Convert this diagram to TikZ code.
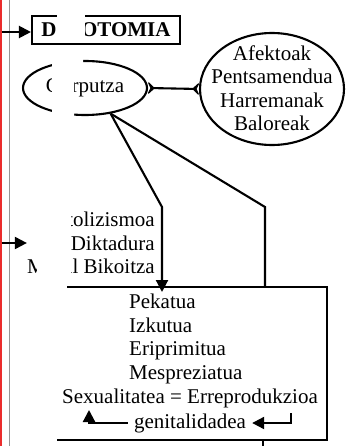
\documentclass[tikz,border=0pt]{standalone}
\usepackage{fontspec}
\setmainfont{Liberation Serif}
\usetikzlibrary{shapes.geometric,arrows.meta}
\definecolor{edgered}{RGB}{235,45,45}
\definecolor{edgegray}{RGB}{150,150,150}
\begin{document}
\begin{tikzpicture}[x=1pt,y=-1pt,
  ln/.style={line width=2.1pt},
  tipped/.style={-{Triangle[length=12pt,width=12pt]}},
  crescent/.style={{Stealth[reversed,length=8pt,width=15pt,inset=3.5pt,round,line width=1.6pt]}-{Stealth[reversed,length=8pt,width=15pt,inset=3.5pt,round,line width=1.6pt]}},
  txt/.style={font=\fontsize{21}{23.5}\selectfont, inner sep=0pt},
  cover/.style={fill=white, draw=none}]
\useasboundingbox (0,0) rectangle (348,446);
% page edge lines
\coordinate (r0) at (1,0); \coordinate (r9) at (1,446);
\coordinate (g0) at (9,0); \coordinate (g9) at (9,446);
\draw[edgered, line width=1.5pt] (r0) -- (r9);
\draw[edgegray, line width=0.8pt] (g0) -- (g9);

% nodes
\node[draw, ln, minimum width=148pt, minimum height=28pt, inner sep=0pt,
      font=\fontsize{21}{23.5}\selectfont\bfseries] (dik) at (106,30) {DIKOTOMIA};
\node[draw, ln, ellipse, minimum width=124pt, minimum height=54pt, txt] (gor) at (85,88) {Gorputza};
\node[draw, ln, ellipse, minimum width=144pt, minimum height=112pt] (afe) at (272,89) {};
\node[txt, align=center] (afet) at (272,88) {Afektoak\\Pentsamendua\\Harremanak\\Baloreak};
\node[txt, align=right, anchor=east] (kat) at (155,243) {Katolizismoa\\Diktadura\\Moral Bikoitza};
\node[txt, align=left, anchor=north west] (pek) at (129,294) {Pekatua\\Izkutua\\Eriprimitua\\Mespreziatua};
\node[txt] (sex) at (190,398) {Sexualitatea = Erreprodukzioa};
\node[txt, inner xsep=6pt] (gen) at (190,423) {genitalidadea};

% coordinates
\coordinate (a1) at (1.5,32);
\coordinate (a2) at (1.5,243);
\coordinate (b1) at (162,207);
\coordinate (b2) at (265,207);
\coordinate (t1) at (162,292);
\coordinate (tl) at (67,287);
\coordinate (tr) at (327,287);
\coordinate (br) at (327,440);
\coordinate (bl) at (57,440);
\coordinate (bot) at (263,446);
\coordinate (r1) at (291,413);
\coordinate (r2) at (291,423);
\coordinate (l1) at (89,423);
\coordinate (l2) at (89,410);

% connectors
\draw[ln, tipped] (a1) -- (a1 -| dik.west);
\draw[ln, crescent] (gor.east) -- (afe.west);
\draw[ln, tipped] (a2) -- (a2 -| kat.west);
\draw[ln] (tl) -- (tr) -- (br) -- (bl);
\draw[ln, tipped] (gor.-45) -- (b1) -- (t1);
\draw[ln] (gor.-45) -- (b2) -- (b2 |- tl);
\draw[ln] (bot |- br) -- (bot);
\draw[ln, tipped] (r1) -- (r2) -- (gen.east);
\draw[ln, tipped] (gen.west) -- (l1) -- (l2);

% white patches hiding parts of the scan
\fill[cover] (57,11) rectangle (85,41);
\fill[cover] (52,56) -- (83,56) -- (83,70) -- (74,82) -- (74,118) -- (52,118) -- cycle;
\fill[cover] (37,208) rectangle (70.5,280);
\end{tikzpicture}
\end{document}
